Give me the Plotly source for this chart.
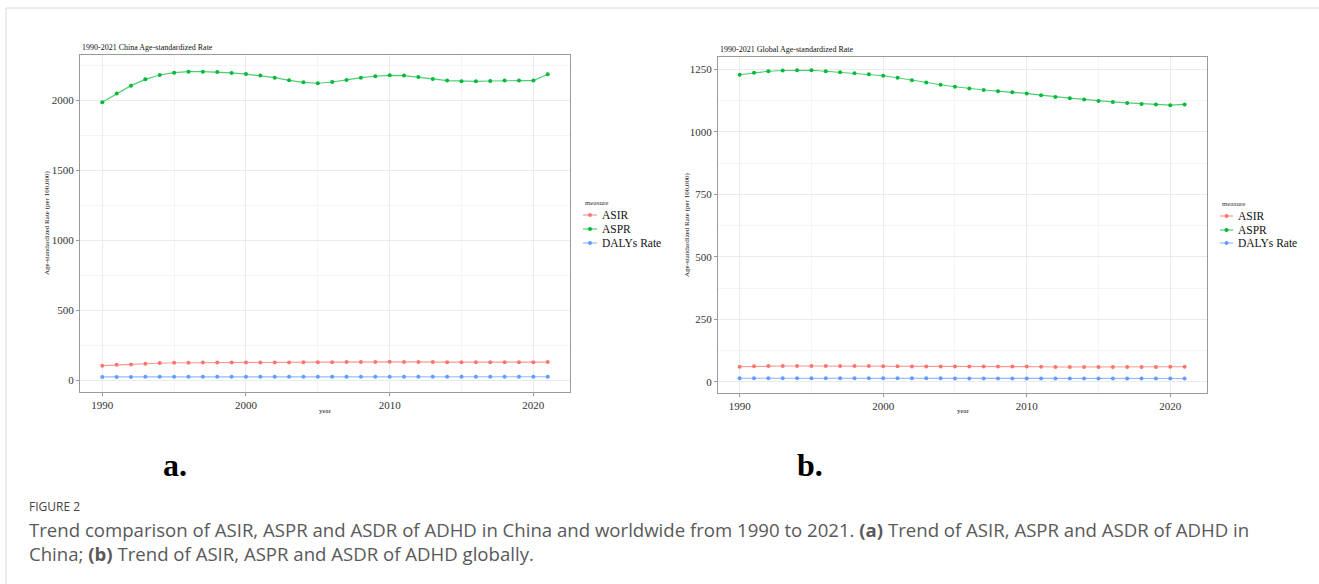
import plotly.graph_objects as go

years = list(range(1990, 2022))

china_asir = [105, 112, 114, 119, 124, 126, 126, 127, 128, 128, 128, 128, 128, 128, 129, 130,
              130, 131, 132, 132, 133, 132, 132, 131, 130, 130, 130, 130, 130, 130, 130, 131]
china_aspr = [1988, 2050, 2107, 2152, 2183, 2200, 2207, 2207, 2205, 2198, 2190, 2179, 2164, 2145, 2131, 2124,
              2133, 2148, 2164, 2174, 2181, 2179, 2169, 2155, 2143, 2138, 2138, 2140, 2143, 2143, 2143, 2188]
china_daly = [25, 25, 25, 26, 26, 26, 26, 26, 26, 26, 26, 26, 26, 26, 26, 26,
              26, 26, 26, 26, 26, 26, 26, 26, 26, 26, 26, 26, 26, 26, 26, 26]

global_asir = [60, 62, 63, 63, 63, 63, 63, 63, 63, 63, 62, 62, 61, 61, 61, 61,
               61, 61, 61, 61, 61, 60, 59, 59, 59, 59, 59, 59, 59, 59, 60, 60]
global_aspr = [1229, 1237, 1243, 1246, 1247, 1247, 1243, 1239, 1235, 1231, 1225, 1217, 1207, 1198, 1189, 1181,
               1174, 1168, 1163, 1159, 1154, 1147, 1140, 1135, 1130, 1124, 1120, 1116, 1112, 1110, 1107, 1110]
global_daly = [14, 14, 14, 14, 14, 14, 14, 14, 14, 14, 14, 14, 14, 14, 14, 13,
               13, 13, 13, 13, 13, 13, 13, 13, 13, 13, 13, 13, 13, 13, 13, 13]

measures = ["ASIR", "ASPR", "DALYs Rate"]
colors = ["#F8766D", "#00BA38", "#619CFF"]
line_colors = ["rgba(248,118,109,0.75)", "rgba(0,186,56,0.7)", "rgba(97,156,255,0.7)"]

W, H = 1319, 584
SERIF = "Liberation Serif, Times New Roman, serif"
SANS = "Open Sans, Lato, sans-serif"

fig = go.Figure()

panels = [
    ("x", "y", [china_asir, china_aspr, china_daly]),
    ("x2", "y2", [global_asir, global_aspr, global_daly]),
]
for xa, ya, series in panels:
    for name, vals, col, lcol in zip(measures, series, colors, line_colors):
        fig.add_trace(go.Scatter(
            x=years, y=vals, name=name, mode="lines+markers",
            line=dict(color=lcol, width=1.2),
            marker=dict(color=col, size=4),
            xaxis=xa, yaxis=ya, showlegend=False,
        ))


def px_x(a, b):
    return [a / W, b / W]


def px_y(top, bottom):
    return [1 - bottom / H, 1 - top / H]


def fx(x):
    return x / W


def fy(y):
    return 1 - y / H


axis_common = dict(
    showline=True, mirror=True, linecolor="#9a9a9a", linewidth=1,
    ticks="outside", ticklen=3, tickcolor="#9a9a9a",
    showgrid=True, gridcolor="#ebebeb", gridwidth=1,
    zeroline=False,
    tickfont=dict(family=SERIF, size=11, color="#333333"),
)

fig.update_layout(
    width=W, height=H,
    margin=dict(l=0, r=0, t=0, b=0),
    paper_bgcolor="white", plot_bgcolor="white",
    showlegend=False,
    xaxis=dict(domain=px_x(80, 570), range=[1988.45, 2022.55], tickvals=[1990, 2000, 2010, 2020],
               minor=dict(tickvals=[1995, 2005, 2015], showgrid=True, gridcolor="#f4f4f4", ticks=""),
               anchor="y", **axis_common),
    yaxis=dict(domain=px_y(55, 392), range=[-83, 2326], tickvals=[0, 500, 1000, 1500, 2000],
               minor=dict(tickvals=[250, 750, 1250, 1750, 2250], showgrid=True, gridcolor="#f4f4f4", ticks=""),
               anchor="x", **axis_common),
    xaxis2=dict(domain=px_x(718, 1207), range=[1988.49, 2022.56], tickvals=[1990, 2000, 2010, 2020],
                minor=dict(tickvals=[1995, 2005, 2015], showgrid=True, gridcolor="#f4f4f4", ticks=""),
                anchor="y2", **axis_common),
    yaxis2=dict(domain=px_y(57, 393), range=[-45, 1300], tickvals=[0, 250, 500, 750, 1000, 1250],
                minor=dict(tickvals=[125, 375, 625, 875, 1125], showgrid=True, gridcolor="#f4f4f4", ticks=""),
                anchor="x2", **axis_common),
)

annotations = [
    dict(text="1990-2021 China Age-standardized Rate", x=fx(80), y=fy(47), xanchor="left", yanchor="middle",
         font=dict(family=SERIF, size=8, color="#111")),
    dict(text="1990-2021 Global Age-standardized Rate", x=fx(718), y=fy(49), xanchor="left", yanchor="middle",
         font=dict(family=SERIF, size=8, color="#111")),
    dict(text="Age-standardized Rate (per 100,000)", x=fx(47), y=fy(223), textangle=-90,
         xanchor="center", yanchor="middle", font=dict(family=SERIF, size=7, color="#111")),
    dict(text="Age-standardized Rate (per 100,000)", x=fx(687), y=fy(225), textangle=-90,
         xanchor="center", yanchor="middle", font=dict(family=SERIF, size=7, color="#111")),
    dict(text="year", x=fx(325), y=fy(411), xanchor="center", yanchor="middle",
         font=dict(family=SERIF, size=7, color="#111")),
    dict(text="year", x=fx(963), y=fy(411), xanchor="center", yanchor="middle",
         font=dict(family=SERIF, size=7, color="#111")),
    dict(text="<b>a.</b>", x=fx(175), y=fy(465), xanchor="center", yanchor="middle",
         font=dict(family=SERIF, size=32, color="#000")),
    dict(text="<b>b.</b>", x=fx(810), y=fy(465), xanchor="center", yanchor="middle",
         font=dict(family=SERIF, size=32, color="#000")),
    dict(text="FIGURE 2", x=fx(27), y=fy(506), xanchor="left", yanchor="middle",
         font=dict(family=SANS, size=12, color="#444")),
    dict(text="Trend comparison of ASIR, ASPR and ASDR of ADHD in China and worldwide from 1990 to 2021. "
              "<b>(a)</b> Trend of ASIR, ASPR and ASDR of ADHD in",
         x=fx(27), y=fy(529), xanchor="left", yanchor="middle",
         font=dict(family=SANS, size=18.6, color="#595959")),
    dict(text="China; <b>(b)</b> Trend of ASIR, ASPR and ASDR of ADHD globally.",
         x=fx(27), y=fy(553), xanchor="left", yanchor="middle",
         font=dict(family=SANS, size=18.6, color="#595959")),
]

# legends (one per panel), drawn as key glyphs + labels
legend_specs = [
    dict(key_x0=583, key_x1=597, text_x=600, title_y=203, item_y=[215, 229, 243]),
    dict(key_x0=1220, key_x1=1233, text_x=1236, title_y=204, item_y=[216, 230, 243]),
]
shapes = []
for spec in legend_specs:
    annotations.append(dict(text="measure", x=fx(spec["key_x0"]), y=fy(spec["title_y"]), xanchor="left",
                            yanchor="middle", font=dict(family=SERIF, size=7, color="#333")))
    for name, col, lcol, iy in zip(measures, colors, line_colors, spec["item_y"]):
        annotations.append(dict(text=name, x=fx(spec["text_x"]), y=fy(iy), xanchor="left", yanchor="middle",
                                font=dict(family=SERIF, size=11.5, color="#111")))
        shapes.append(dict(type="line", xref="paper", yref="paper",
                           x0=fx(spec["key_x0"]), x1=fx(spec["key_x1"]), y0=fy(iy), y1=fy(iy),
                           line=dict(color=lcol, width=1.2)))
        cx = (spec["key_x0"] + spec["key_x1"]) / 2
        shapes.append(dict(type="circle", xref="paper", yref="paper",
                           x0=fx(cx - 2), x1=fx(cx + 2), y0=fy(iy + 2), y1=fy(iy - 2),
                           fillcolor=col, line=dict(color=col, width=0)))

for a in annotations:
    a.update(xref="paper", yref="paper", showarrow=False)

shapes.append(dict(type="line", xref="paper", yref="paper", x0=fx(6), x1=1, y0=fy(8), y1=fy(8),
                   line=dict(color="#dcdcdc", width=1)))
shapes.append(dict(type="line", xref="paper", yref="paper", x0=fx(6), x1=fx(6), y0=0, y1=fy(8),
                   line=dict(color="#dcdcdc", width=1)))

fig.update_layout(annotations=annotations, shapes=shapes)

fig.write_html("out.html", config={"displayModeBar": False},
               post_script="document.body.style.margin='0';document.body.style.overflow='hidden';")
